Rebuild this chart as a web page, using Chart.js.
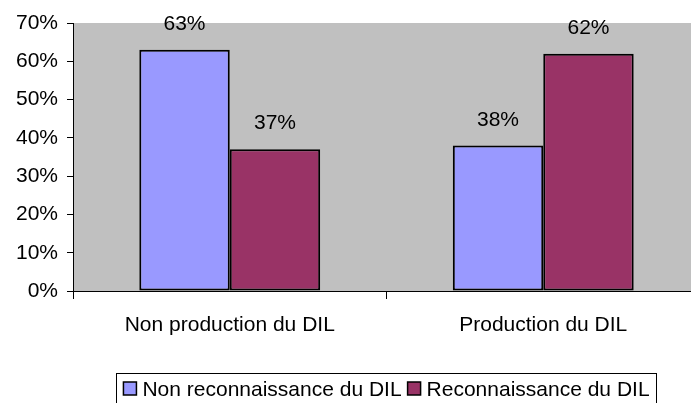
<!DOCTYPE html>
<html>
<head>
<meta charset="utf-8">
<script src="https://cdn.jsdelivr.net/npm/chart.js@4/dist/chart.umd.min.js"></script>
<style>
    html, body { margin: 0; padding: 0; background: #fff; overflow: hidden; }
    #wrap { width: 710px; height: 403px; }
</style>
</head>
<body>
<div id="wrap"><canvas id="dilChart" width="710" height="403"></canvas></div>
<script>
/* ── Data ─────────────────────────────────────────── */
var categories = ['Non production du DIL', 'Production du DIL'];
var seriesNames = ['Non reconnaissance du DIL', 'Reconnaissance du DIL'];
var nonReconnaissance = [63, 38];
var reconnaissance = [37, 62];
var yTicks = [0, 10, 20, 30, 40, 50, 60, 70];

var FONT = { family: '"Liberation Sans", Arial, sans-serif', size: 21 };
var colors = ['#9999FF', '#993366'];

// grey plot area
var plotBg = {
    id: 'plotBg',
    beforeDraw: function (chart) {
        var a = chart.chartArea, ctx = chart.ctx;
        ctx.save();
        ctx.fillStyle = '#C0C0C0';
        ctx.fillRect(a.left, a.top, a.right - a.left, a.bottom - a.top);
        ctx.restore();
    }
};

// value labels above bars
var barLabels = {
    id: 'barLabels',
    afterDatasetsDraw: function (chart) {
        var ctx = chart.ctx;
        ctx.save();
        ctx.font = FONT.size + 'px ' + FONT.family;
        ctx.fillStyle = '#000';
        ctx.textAlign = 'center';
        ctx.textBaseline = 'alphabetic';
        chart.data.datasets.forEach(function (ds, i) {
            chart.getDatasetMeta(i).data.forEach(function (bar, j) {
                ctx.fillText(ds.data[j] + '%', bar.x, bar.y - 20);
            });
        });
        ctx.restore();
    }
};

// boxed legend centred under the plot
var boxLegend = {
    id: 'boxLegend',
    afterDraw: function (chart) {
        var ctx = chart.ctx, a = chart.chartArea;
        ctx.save();
        ctx.font = FONT.size + 'px ' + FONT.family;
        var sw = 13, gap = 6, itemGap = 6, pad = 7;
        var widths = seriesNames.map(function (n) { return ctx.measureText(n).width; });
        var total = 0;
        widths.forEach(function (w, i) { total += sw + gap + w + (i ? itemGap : 0); });
        var cx = (a.left + a.right) / 2;
        var left = cx - total / 2;
        var top = 373;
        ctx.strokeStyle = '#000';
        ctx.lineWidth = 1;
        ctx.strokeRect(Math.round(left - pad) + 0.5, top + 0.5, Math.round(total + pad * 2), 60);
        var x = left;
        ctx.textBaseline = 'alphabetic';
        seriesNames.forEach(function (n, i) {
            ctx.fillStyle = colors[i];
            ctx.fillRect(x, 382, sw, sw);
            ctx.strokeStyle = '#000';
            ctx.lineWidth = 1.5;
            ctx.strokeRect(x, 382, sw, sw);
            ctx.fillStyle = '#000';
            ctx.fillText(n, x + sw + gap, 396);
            x += sw + gap + widths[i] + itemGap;
        });
        ctx.restore();
    }
};

new Chart(document.getElementById('dilChart'), {
    type: 'bar',
    data: {
        labels: categories,
        datasets: [
            {
                label: seriesNames[0],
                data: nonReconnaissance,
                backgroundColor: colors[0],
                borderColor: '#000',
                borderWidth: 2,
                borderSkipped: false
            },
            {
                label: seriesNames[1],
                data: reconnaissance,
                backgroundColor: colors[1],
                borderColor: '#000',
                borderWidth: 2,
                borderSkipped: false
            }
        ]
    },
    options: {
        responsive: false,
        animation: false,
        devicePixelRatio: 1,
        categoryPercentage: 0.577,
        barPercentage: 1,
        layout: { padding: { top: 23, right: 10, bottom: 0, left: 0 } },
        plugins: {
            legend: { display: false },
            tooltip: { enabled: false }
        },
        scales: {
            x: {
                grid: { display: true, drawOnChartArea: false, drawTicks: true, tickLength: 8, color: '#000', offset: true },
                border: { display: true, color: '#000', width: 1 },
                ticks: { color: '#000', font: FONT, padding: 14, maxRotation: 0 },
                afterFit: function (s) { s.height = 112; }
            },
            y: {
                min: 0,
                max: 70,
                afterBuildTicks: function (s) { s.ticks = yTicks.map(function (v) { return { value: v }; }); },
                grid: { display: true, drawOnChartArea: false, drawTicks: true, tickLength: 6, color: '#000' },
                border: { display: true, color: '#000', width: 1 },
                ticks: { color: '#000', font: FONT, padding: 9, callback: function (v) { return v + '%'; } },
                afterFit: function (s) { s.width = 73; }
            }
        }
    },
    plugins: [plotBg, barLabels, boxLegend]
});
</script>
</body>
</html>
